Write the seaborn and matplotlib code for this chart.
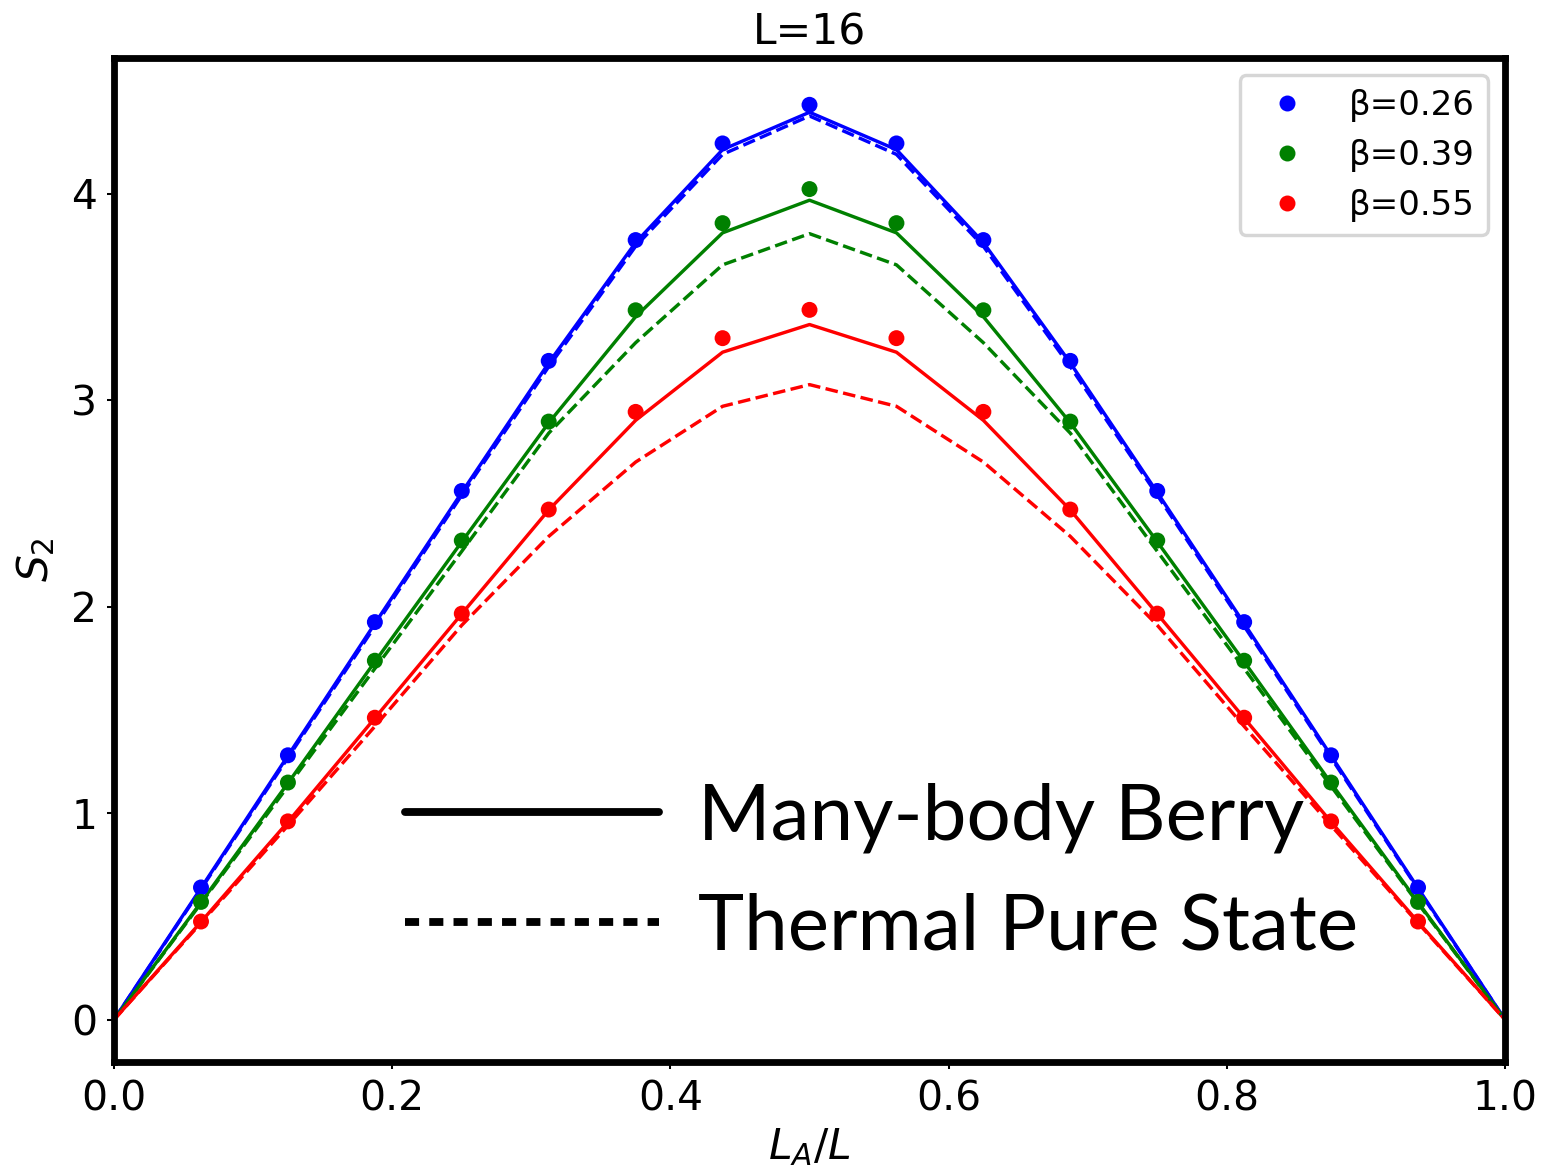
import numpy as np
import pandas as pd
import matplotlib
matplotlib.use("Agg")
import matplotlib.pyplot as plt
from matplotlib.lines import Line2D
import seaborn as sns

# ---------------- data ----------------
L = 16
betas = ["β=0.26", "β=0.39", "β=0.55"]
colors = ["blue", "green", "red"]
k_all = list(range(0, 17))
k_dots = list(range(1, 16))

blue_dots = [0.64, 1.28, 1.925, 2.56, 3.19, 3.775, 4.243, 4.43, 4.243, 3.775, 3.19, 2.56, 1.925, 1.28, 0.64]
green_dots = [0.57, 1.148, 1.738, 2.32, 2.896, 3.435, 3.857, 4.022, 3.857, 3.435, 2.896, 2.32, 1.738, 1.148, 0.57]
red_dots = [0.475, 0.96, 1.462, 1.966, 2.47, 2.943, 3.30, 3.437, 3.30, 2.943, 2.47, 1.966, 1.462, 0.96, 0.475]

blue_berry = [0, 0.637, 1.278, 1.918, 2.553, 3.18, 3.763, 4.213, 4.394, 4.213, 3.763, 3.18, 2.553, 1.918, 1.278, 0.637, 0]
blue_thermal = [0, 0.632, 1.268, 1.905, 2.54, 3.162, 3.745, 4.19, 4.376, 4.19, 3.745, 3.162, 2.54, 1.905, 1.268, 0.632, 0]
green_berry = [0, 0.568, 1.145, 1.733, 2.314, 2.89, 3.404, 3.81, 3.968, 3.81, 3.404, 2.89, 2.314, 1.733, 1.145, 0.568, 0]
green_thermal = [0, 0.563, 1.13, 1.70, 2.268, 2.84, 3.278, 3.655, 3.806, 3.655, 3.278, 2.84, 2.268, 1.70, 1.13, 0.563, 0]
red_berry = [0, 0.473, 0.957, 1.46, 1.965, 2.468, 2.902, 3.232, 3.366, 3.232, 2.902, 2.468, 1.965, 1.46, 0.957, 0.473, 0]
red_thermal = [0, 0.468, 0.94, 1.42, 1.91, 2.34, 2.70, 2.97, 3.075, 2.97, 2.70, 2.34, 1.91, 1.42, 0.94, 0.468, 0]

x_ticks = [0.0, 0.2, 0.4, 0.6, 0.8, 1.0]
y_ticks = [0, 1, 2, 3, 4]

# ---------------- tables ----------------
dots_df = pd.DataFrame({
    "x": [k / L for k in k_dots] * 3,
    "S2": blue_dots + green_dots + red_dots,
    "beta": [b for b in betas for _ in k_dots],
})
lines_df = pd.DataFrame({
    "x": [k / L for k in k_all] * 3,
    "berry": blue_berry + green_berry + red_berry,
    "thermal": blue_thermal + green_thermal + red_thermal,
    "beta": [b for b in betas for _ in k_all],
})
palette = dict(zip(betas, colors))

# ---------------- figure ----------------
sns.set_style("ticks")
plt.rcParams["font.family"] = ["DejaVu Sans"]
plt.rcParams["mathtext.fontset"] = "dejavusans"
for key in ["text.color", "axes.labelcolor", "xtick.color", "ytick.color"]:
    plt.rcParams[key] = "black"

fig = plt.figure(figsize=(6.404, 4.784), dpi=245)
ax = fig.add_axes([0.0727, 0.0939, 0.8865, 0.8566])

sns.lineplot(data=lines_df, x="x", y="berry", hue="beta", palette=palette,
             linewidth=1.0, legend=False, ax=ax, sort=False)
sns.lineplot(data=lines_df, x="x", y="thermal", hue="beta", palette=palette,
             linewidth=1.0, linestyle="--", legend=False, ax=ax, sort=False)
sns.scatterplot(data=dots_df, x="x", y="S2", hue="beta", palette=palette,
                s=22, linewidth=0, ax=ax, zorder=3)

ax.set_xlim(0, 1)
ax.set_ylim(-0.205, 4.657)
ax.set_xticks(x_ticks)
ax.set_xticklabels([f"{v:.1f}" for v in x_ticks])
ax.set_yticks(y_ticks)
ax.tick_params(axis="both", labelsize=12, length=2, width=0.6, direction="out", pad=3,
               colors="black")
for sp in ax.spines.values():
    sp.set_visible(True)
    sp.set_linewidth(2.0)
    sp.set_color("black")

ax.set_xlabel("$L_A/L$", fontsize=12.5, labelpad=2)
ax.set_ylabel("$S_2$", fontsize=12.5, labelpad=4)
ax.set_title("L=16", fontsize=12.5, pad=4)

leg1 = ax.legend(loc="upper right", fontsize=10, title=None)
ax.add_artist(leg1)

handles = [Line2D([], [], color="black", lw=2.3, linestyle="-"),
           Line2D([], [], color="black", lw=2.3, linestyle=(0, (1.8, 1.3)))]
leg2 = ax.legend(handles=handles, labels=["Many-body Berry", "Thermal Pure State"],
                 loc="center left", bbox_to_anchor=(0.209, 0.1885), frameon=False,
                 borderpad=0, borderaxespad=0, handlelength=3.25, handletextpad=0.5,
                 labelspacing=0.5, prop={"family": "Lato", "size": 23})

fig.savefig("out.png", dpi=245)
